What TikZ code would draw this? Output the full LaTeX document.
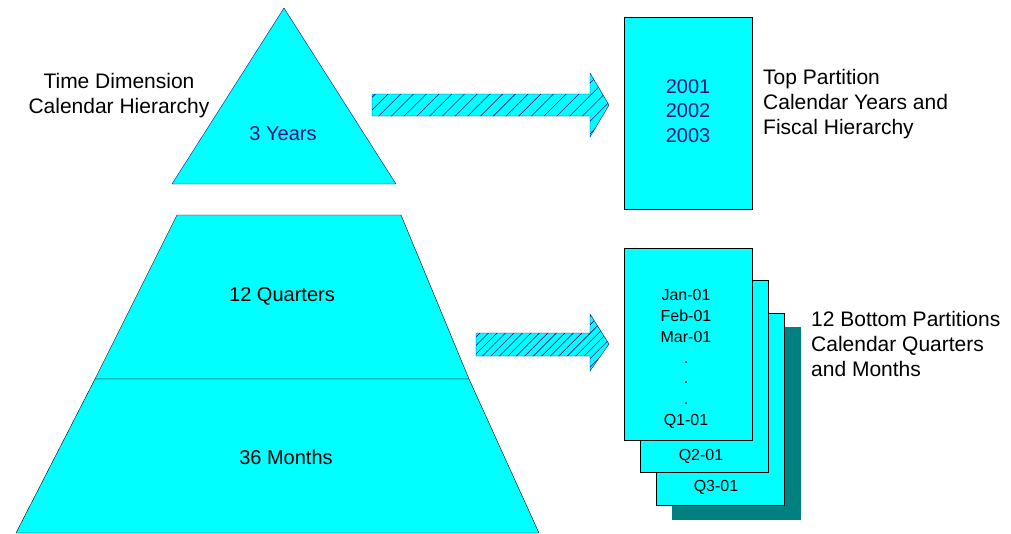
\documentclass[tikz,border=0pt]{standalone}
\usepackage{fontspec}
\setmainfont{Liberation Sans}
\usetikzlibrary{patterns.meta}
\definecolor{aqua}{RGB}{0,255,255}
\definecolor{navyblue}{RGB}{16,16,140}
\definecolor{tealshade}{RGB}{0,128,128}
\tikzset{
  big/.style={font=\fontsize{20}{24.5}\selectfont, inner sep=0pt, align=center},
  side/.style={font=\fontsize{21}{25}\selectfont, inner sep=0pt, align=left, anchor=west},
  small/.style={font=\fontsize{16}{20.8}\selectfont, inner sep=0pt, align=center},
  part/.style={draw=black, fill=aqua, minimum width=128pt, minimum height=192pt, inner sep=0pt},
  hatched/.style={draw=navyblue, preaction={fill=aqua},
    pattern={Lines[angle=45, distance=9pt, line width=0.6pt]}, pattern color=navyblue}
}
\begin{document}
\begin{tikzpicture}[x=1pt, y=-1pt]
  \useasboundingbox (0,0) rectangle (1011,533);
  % hierarchy shapes
  \draw[navyblue, fill=aqua] (284,8) -- (396,184) -- (172,184) -- cycle;
  \draw[black, fill=aqua] (177,215) -- (401,215) -- (469,379) -- (95,379) -- cycle;
  \draw[black, fill=aqua] (95,379) -- (469,379) -- (539,533) -- (16,533) -- cycle;
  \node[big, navyblue] (years) at (283,134) {3 Years};
  \node[big] (quarters) at (282,296) {12 Quarters};
  \node[big] (months) at (286,457) {36 Months};
  \node[side, align=center, anchor=center] (hier) at (119,96) {Time Dimension\\Calendar Hierarchy};
  % block arrows
  \draw[hatched] (372,94) -- (590,94) -- (590,73) -- (609,105) -- (590,137) -- (590,116) -- (372,116) -- cycle;
  \draw[hatched, pattern={Lines[angle=45, distance=6pt, line width=0.6pt]}]
    (476,333) -- (590,333) -- (590,314) -- (609,344) -- (590,371) -- (590,356) -- (476,356) -- cycle;
  % partitions
  \node[part] (top) at (688,113) {};
  \node[big, navyblue] (toplist) at (688,111) {2001\\2002\\2003};
  \node[side] (toptext) at (763,104) {Top Partition\\Calendar Years and\\Fiscal Hierarchy};
  \fill[tealshade] (672,327) rectangle (801,520);
  \node[part] (q3) at (720.5,409.5) {};
  \node[part] (q2) at (704.5,376.5) {};
  \node[part] (q1) at (688.5,344) {};
  \node[small] (q1list) at (686,359) {Jan-01\\Feb-01\\Mar-01\\.\\.\\.\\Q1-01};
  \node[small] (q2lab) at (701,456) {Q2-01};
  \node[small] (q3lab) at (716,487) {Q3-01};
  \node[side] (bottext) at (811,344) {12 Bottom Partitions\\Calendar Quarters\\and Months};
\end{tikzpicture}
\end{document}
